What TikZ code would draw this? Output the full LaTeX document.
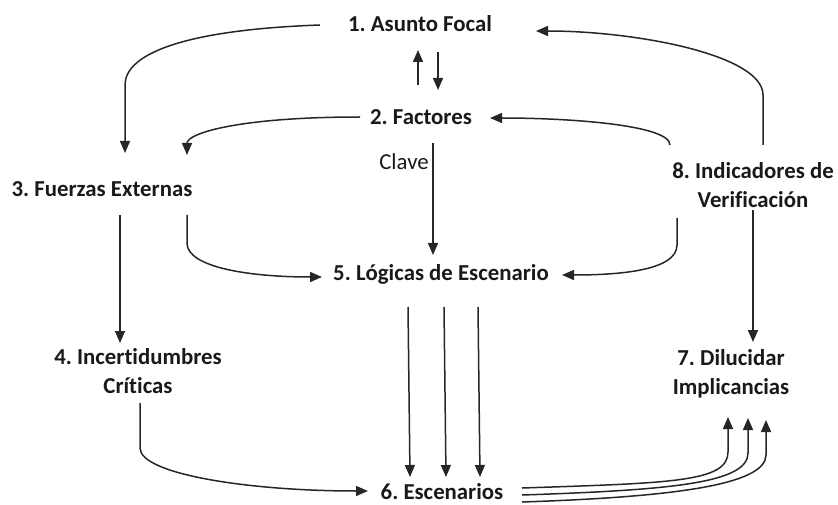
\documentclass[tikz,border=0pt]{standalone}
\usepackage{fontspec}
\setmainfont[Ligatures=NoCommon]{Carlito}
\usetikzlibrary{arrows.meta,calc}
\frenchspacing

\tikzset{
    paso/.style={font=\fontsize{22.8}{29}\selectfont\bfseries, inner sep=0pt, text=black!90},
    flecha/.style={-{Triangle[length=12pt,width=10pt]}, line width=1.5pt, black!85}
}

\begin{document}
\begin{tikzpicture}[x=1pt, y=-1pt]
    \useasboundingbox (0,0) rectangle (838,505);

    % pasos del proceso
    \node[paso, anchor=base] (n1) at (420,32) {1. Asunto Focal};
    \node[paso, anchor=base] (n2) at (421,125) {2. Factores};
    \node[paso, anchor=base, font=\fontsize{22.8}{29}\selectfont\mdseries] (clave) at (404,170) {Clave};
    \node[paso, anchor=base] (n3) at (102,197) {3. Fuerzas Externas};
    \node[paso, anchor=base] (n5) at (441,280) {5. Lógicas de Escenario};
    \node[paso, anchor=base] (n6) at (442,499) {6. Escenarios};
    \node[paso, align=center] (n4) at (138,371) {4. Incertidumbres\\Críticas};
    \node[paso, align=center] (n7) at (731,374) {7. Dilucidar\\Implicancias};
    \node[paso, align=center] (n8) at (753,185) {8. Indicadores de\\Verificación};

    % ida y vuelta entre 1 y 2
    \draw[flecha] ($(n2.base)+(-3,-40)$) -- ($(n1.base)+(-2,18)$);
    \draw[flecha] ($(n1.base)+(18,20)$) -- ($(n2.base)+(17,-35)$);

    % hacia las fuerzas externas
    \draw[flecha] ($(n1.base)+(-100,-7)$) .. controls +(-140,5) and +(0,-30) .. ($(n3.base)+(23,-112)$) -- ($(n3.base)+(23,-44)$);
    \draw[flecha] ($(n2.base)+(-61,-8)$) .. controls +(-120,0) and +(0,-22) .. ($(n3.base)+(85,-42)$);

    % retroalimentacion desde 8
    \draw[flecha] ($(n8.center)+(10,-40)$) -- +(0,-50) .. controls +(0,-40) and +(100,0) .. ($(n1.base)+(116,-1)$);
    \draw[flecha] ($(n8.center)+(-83,-40)$) .. controls +(0,-20) and +(80,0) .. ($(n2.base)+(69,-7)$);

    % hacia las logicas de escenario
    \draw[flecha] ($(n2.base)+(12,18)$) -- ($(n5.base)+(-8,-25)$);
    \draw[flecha] ($(n3.base)+(85,18)$) -- +(0,28) .. controls +(0,25) and +(-70,0) .. ($(n5.base)+(-119,-3)$);
    \draw[flecha] ($(n8.center)+(-76,33)$) -- +(0,27) .. controls +(0,25) and +(60,0) .. ($(n5.base)+(121,-5)$);

    % columna izquierda
    \draw[flecha] ($(n3.base)+(18,18)$) -- ($(n4.center)+(-18,-28)$);
    \draw[flecha] ($(n4.center)+(2,32)$) -- +(0,45) .. controls +(0,26) and +(-120,0) .. ($(n6.base)+(-74,-8)$);

    % de las logicas a los escenarios
    \foreach \dx in {-33,3,37} {
        \draw[flecha] ($(n5.base)+(\dx,27)$) -- ($(n6.base)+(\dx+1,-22)$);
    }

    % columna derecha
    \draw[flecha] ($(n8.center)+(0,25)$) -- ($(n7.center)+(22,-32)$);
    \foreach \sy/\ex/\ey in {-11/-3/43, -4/17/44, 3/35/46} {
        \draw[flecha] ($(n6.base)+(80,\sy)$) .. controls +(150,-5) and +(0,30) .. ($(n7.center)+(\ex,\ey+35)$) -- ($(n7.center)+(\ex,\ey)$);
    }
\end{tikzpicture}
\end{document}
